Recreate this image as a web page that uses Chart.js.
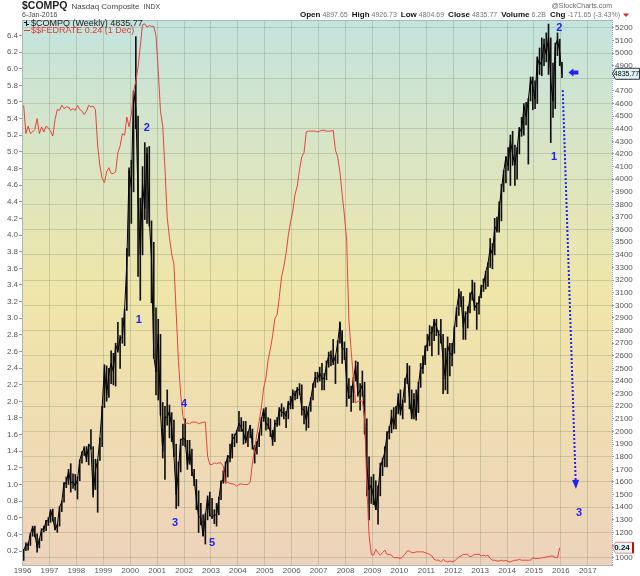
<!DOCTYPE html>
<html>
<head>
<meta charset="utf-8">
<script src="https://cdn.jsdelivr.net/npm/chart.js@4.4.0/dist/chart.umd.min.js"></script>
<style>
html, body { margin: 0; padding: 0; background: #fff; }
#wrap { position: relative; width: 640px; height: 576px; }
</style>
</head>
<body>
<div id="wrap"><canvas id="myChart" width="640" height="576"></canvas></div>
<script>
// monthly data, Jan 1996 .. Jan 2016 (last one is the current week)
var startYear = 1996;

var compqClose = [
  1059,1100,1101,1191,1243,1185,1081,1142,1227,1222,1293,1291,
  1380,1309,1222,1261,1400,1442,1594,1587,1686,1594,1601,1570,
  1619,1771,1835,1868,1779,1895,1872,1499,1694,1771,1950,2193,
  2506,2288,2461,2543,2471,2686,2638,2739,2746,2966,3336,4069,
  3940,4697,4573,3861,3401,3966,3767,4206,3673,3370,2598,2471,
  2773,2152,1840,2116,2110,2161,2027,1805,1499,1690,1931,1950,
  1934,1731,1845,1688,1616,1463,1328,1315,1172,1330,1479,1336,
  1321,1337,1341,1464,1596,1623,1735,1810,1787,1932,1960,2003,
  2066,2030,1994,1920,1987,2048,1887,1838,1897,1975,2097,2175,
  2062,2052,1999,1922,2068,2057,2185,2152,2152,2120,2233,2205,
  2306,2281,2340,2323,2179,2172,2091,2184,2258,2367,2432,2415,
  2464,2416,2422,2525,2605,2603,2546,2596,2701,2859,2661,2652,
  2390,2271,2279,2413,2523,2293,2326,2368,2092,1721,1536,1577,
  1476,1378,1529,1717,1774,1835,1979,2009,2122,2045,2145,2269,
  2147,2238,2398,2461,2257,2109,2255,2114,2369,2507,2498,2653,
  2700,2782,2781,2874,2835,2774,2756,2579,2415,2684,2620,2605,
  2814,2967,3092,3046,2827,2935,2940,3067,3116,2977,3010,3020,
  3142,3160,3268,3329,3456,3403,3626,3590,3771,3920,4060,4177,
  4104,4308,4199,4115,4243,4408,4370,4580,4493,4631,4792,4736,
  4635,4964,4901,4941,5070,4987,5128,4777,4620,5054,5109,5007,
  4836
];

var compqHigh = [
  1065,1117,1118,1193,1250,1250,1190,1150,1230,1250,1296,1316,
  1380,1385,1320,1265,1405,1450,1595,1640,1700,1745,1665,1660,
  1640,1775,1840,1880,1880,1900,2015,1880,1780,1775,1950,2200,
  2530,2520,2500,2640,2620,2700,2865,2760,2900,2970,3450,4090,
  4150,4700,5130,4500,3850,4100,4290,4250,4260,3670,3500,2980,
  2890,2770,2230,2200,2330,2210,2150,2090,1900,1760,1940,2060,
  2100,1930,1930,1860,1700,1620,1530,1430,1340,1350,1490,1520,
  1470,1380,1430,1480,1610,1690,1760,1810,1900,1980,1980,2010,
  2160,2110,2080,2080,2000,2050,2020,1890,1920,1990,2110,2180,
  2190,2110,2100,2010,2090,2110,2190,2220,2190,2160,2240,2280,
  2330,2320,2350,2380,2370,2200,2200,2190,2270,2380,2470,2470,
  2510,2540,2460,2560,2630,2640,2730,2600,2720,2870,2800,2710,
  2660,2420,2360,2430,2560,2550,2380,2480,2390,2100,1800,1640,
  1660,1610,1570,1750,1790,1880,2000,2040,2170,2190,2200,2300,
  2330,2250,2420,2540,2520,2330,2300,2330,2390,2540,2600,2680,
  2770,2840,2830,2890,2890,2800,2890,2770,2660,2750,2700,2700,
  2830,2980,3130,3110,3070,2950,2990,3100,3200,3180,3020,3070,
  3160,3210,3270,3340,3530,3490,3690,3700,3820,3960,4070,4180,
  4250,4350,4380,4270,4250,4410,4490,4600,4610,4640,4810,4810,
  4780,4970,5040,5120,5110,5160,5230,5120,4920,5080,5160,5110,
  4927
];

var compqLow = [
  978,1055,1060,1097,1170,1164,1043,1077,1135,1205,1215,1255,
  1280,1290,1220,1201,1250,1365,1440,1555,1580,1520,1550,1535,
  1465,1610,1750,1810,1760,1735,1860,1480,1540,1360,1770,1880,
  2190,2240,2270,2380,2370,2360,2630,2500,2700,2680,2960,3390,
  3650,3900,4400,3230,3040,3400,3680,3650,3630,3020,2580,2290,
  2250,2130,1790,1620,2050,1950,1920,1800,1390,1410,1680,1890,
  1880,1700,1740,1650,1570,1380,1200,1260,1170,1108,1300,1330,
  1310,1270,1250,1340,1460,1590,1600,1640,1760,1790,1880,1910,
  2000,2000,1900,1910,1880,1950,1860,1750,1820,1880,1970,2080,
  2010,2020,1960,1890,1920,2040,2050,2120,2100,2030,2100,2180,
  2180,2250,2260,2290,2130,2060,2010,2030,2160,2250,2350,2390,
  2400,2330,2330,2410,2510,2520,2530,2380,2540,2700,2540,2570,
  2200,2260,2160,2230,2400,2280,2170,2280,1980,1490,1300,1430,
  1420,1380,1265,1490,1650,1720,1720,1940,1990,2020,2020,2140,
  2130,2100,2230,2380,2180,2100,2100,2090,2150,2350,2460,2530,
  2640,2680,2600,2720,2760,2610,2700,2300,2330,2300,2440,2520,
  2620,2830,2920,2990,2730,2730,2820,2940,3040,2960,2810,2930,
  3060,3110,3130,3150,3300,3290,3400,3580,3580,3670,3900,3970,
  4070,3950,4110,3950,4000,4200,4340,4350,4430,4120,4620,4550,
  4560,4600,4830,4820,4900,4930,4830,4290,4490,4560,4980,4900,
  4805
];

// effective fed funds rate, monthly, Jan 1996 .. Dec 2015
var fedRate = [
  5.56,5.22,5.31,5.22,5.24,5.27,5.40,5.22,5.30,5.24,5.31,5.29,
  5.25,5.19,5.39,5.51,5.50,5.56,5.52,5.54,5.54,5.50,5.52,5.50,
  5.56,5.51,5.49,5.45,5.49,5.56,5.54,5.55,5.51,5.07,4.83,4.68,
  4.63,4.76,4.81,4.74,4.74,4.76,4.99,5.07,5.22,5.20,5.42,5.30,
  5.45,5.73,5.85,6.02,6.27,6.53,6.54,6.50,6.52,6.51,6.51,6.40,
  5.98,5.49,5.31,4.80,4.21,3.97,3.77,3.65,3.07,2.49,2.09,1.82,
  1.73,1.74,1.73,1.75,1.75,1.75,1.73,1.74,1.75,1.75,1.34,1.24,
  1.24,1.26,1.25,1.26,1.26,1.22,1.01,1.03,1.01,1.01,1.00,0.98,
  1.00,1.01,1.00,1.00,1.00,1.03,1.26,1.43,1.61,1.76,1.93,2.16,
  2.28,2.50,2.63,2.79,3.00,3.04,3.26,3.50,3.62,3.78,4.00,4.16,
  4.29,4.49,4.59,4.79,4.94,4.99,5.24,5.25,5.25,5.25,5.25,5.24,
  5.25,5.26,5.26,5.25,5.25,5.25,5.26,5.02,4.94,4.76,4.49,4.24,
  3.94,2.98,2.61,2.28,1.98,2.00,2.01,2.00,1.81,0.97,0.39,0.16,
  0.15,0.22,0.18,0.15,0.18,0.21,0.16,0.16,0.15,0.12,0.12,0.12,
  0.11,0.13,0.16,0.20,0.20,0.18,0.18,0.19,0.19,0.19,0.19,0.18,
  0.17,0.16,0.14,0.10,0.09,0.09,0.07,0.10,0.08,0.07,0.08,0.07,
  0.08,0.10,0.13,0.14,0.16,0.16,0.16,0.13,0.14,0.16,0.16,0.16,
  0.14,0.15,0.14,0.15,0.11,0.09,0.09,0.08,0.08,0.09,0.08,0.09,
  0.07,0.07,0.08,0.09,0.09,0.10,0.09,0.09,0.09,0.09,0.09,0.12,
  0.11,0.11,0.11,0.12,0.12,0.13,0.13,0.14,0.14,0.12,0.12,0.24
];

var yearTicks = [1996,1997,1998,1999,2000,2001,2002,2003,2004,2005,2006,
  2007,2008,2009,2010,2011,2012,2013,2014,2015,2016,2017];
var rateTicks = [0.2,0.4,0.6,0.8,1.0,1.2,1.4,1.6,1.8,2.0,2.2,2.4,2.6,2.8,3.0,3.2,
  3.4,3.6,3.8,4.0,4.2,4.4,4.6,4.8,5.0,5.2,5.4,5.6,5.8,6.0,6.2,6.4];
var indexTicks = [1000,1100,1200,1300,1400,1500,1600,1700,1800,1900,2000,2100,
  2200,2300,2400,2500,2600,2700,2800,2900,3000,3100,3200,3300,3400,3500,3600,
  3700,3800,3900,4000,4100,4200,4300,4400,4500,4600,4700,4800,4900,5000,5100,5200];

// Elliott wave counts written on the chart (year, index level)
var waveText = ['2','1','4','3','5','2','1','3'];
var waveYear = [2000.62,2000.32,2002.0,2001.67,2003.04,2015.94,2015.75,2016.68];
var waveLevel = [4410,2882,2217,1275,1117,5200,4180,1351];

function monthX(i) { return startYear + (i + 0.5) / 12; }

var closePts = compqClose.map(function (v, i) { return { x: monthX(i), y: v }; });
var rangePts = compqClose.map(function (v, i) { return { x: monthX(i), y: [compqLow[i], compqHigh[i]] }; });
var fedPts = fedRate.map(function (v, i) { return { x: monthX(i), y: v }; });

var FONT = "'Liberation Sans', Arial, sans-serif";
var gridColor = 'rgba(120,140,105,0.30)';

var bgPlugin = {
  id: 'bg',
  beforeDraw: function (chart) {
    var a = chart.chartArea, c = chart.ctx;
    var g = c.createLinearGradient(0, a.top, 0, a.bottom);
    g.addColorStop(0, '#c3e4df');
    g.addColorStop(0.5, '#f0e6a8');
    g.addColorStop(1, '#eed3bc');
    c.save();
    c.fillStyle = g;
    c.fillRect(a.left, a.top, a.right - a.left, a.bottom - a.top);
    c.restore();
  }
};

function txt(c, s, x, y, font, color, align) {
  c.font = font;
  c.fillStyle = color;
  c.textAlign = align || 'left';
  c.textBaseline = 'middle';
  c.fillText(s, x, y);
  return c.measureText(s).width;
}

var notePlugin = {
  id: 'notes',
  afterDraw: function (chart) {
    var c = chart.ctx, a = chart.chartArea;
    var sx = chart.scales.x, sr = chart.scales.y2, sl = chart.scales.y;
    c.save();

    // plot frame, dotted right axis line
    c.strokeStyle = '#a9b8b4';
    c.lineWidth = 1;
    c.beginPath();
    c.moveTo(a.left + 0.5, a.bottom);
    c.lineTo(a.left + 0.5, a.top + 0.5);
    c.lineTo(a.right, a.top + 0.5);
    c.stroke();
    c.strokeStyle = '#7fa3c4';
    c.setLineDash([1, 1]);
    c.beginPath();
    c.moveTo(a.right + 0.5, a.top);
    c.lineTo(a.right + 0.5, a.bottom);
    c.stroke();
    c.setLineDash([]);

    // header
    var w = txt(c, '$COMPQ', 22, 6.5, 'bold 10.5px ' + FONT, '#222');
    w += 4;
    w += txt(c, 'Nasdaq Composite', 22 + w, 7, '8px ' + FONT, '#444') + 4;
    txt(c, 'INDX', 22 + w, 7, '7px ' + FONT, '#444');
    txt(c, '6-Jan-2016', 22, 15, '7px ' + FONT, '#444');
    txt(c, '@StockCharts.com', 612, 6, '7px ' + FONT, '#666', 'right');

    var parts = [['Open', '4897.65'], ['High', '4926.73'], ['Low', '4804.69'],
      ['Close', '4835.77'], ['Volume', '6.2B'], ['Chg', '-171.65 (-3.43%)']];
    var x = 300;
    parts.forEach(function (p) {
      x += txt(c, p[0], x, 15, 'bold 8px ' + FONT, '#111') + 2;
      x += txt(c, p[1], x, 15, '7px ' + FONT, '#777') + 4;
    });
    c.fillStyle = '#d22';
    c.beginPath();
    c.moveTo(x - 1, 13.5); c.lineTo(x + 5, 13.5); c.lineTo(x + 2, 17);
    c.closePath(); c.fill();

    // legend inside plot
    c.strokeStyle = '#111';
    c.lineWidth = 1;
    c.beginPath();
    c.moveTo(26.5, 20.5); c.lineTo(26.5, 26);
    c.moveTo(24, 22.5); c.lineTo(26.5, 22.5);
    c.moveTo(26.5, 24.5); c.lineTo(29, 24.5);
    c.stroke();
    txt(c, '$COMPQ (Weekly) 4835.77', 31, 23.5, '9px ' + FONT, '#222');
    c.strokeStyle = '#e23a33';
    c.beginPath(); c.moveTo(24, 30.5); c.lineTo(30, 30.5); c.stroke();
    txt(c, '$$FEDRATE 0.24 (1 Dec)', 31, 31, '9px ' + FONT, '#e23a33');

    // wave labels
    waveText.forEach(function (t, i) {
      txt(c, t, sx.getPixelForValue(waveYear[i]), sr.getPixelForValue(waveLevel[i]),
        'bold 11px ' + FONT, '#2222ee', 'center');
    });

    // dotted projection with arrow head
    var x0 = sx.getPixelForValue(2016.07), y0 = sr.getPixelForValue(4706);
    var x1 = sx.getPixelForValue(2016.56), y1 = sr.getPixelForValue(1545);
    var ang = Math.atan2(y1 - y0, x1 - x0);
    var hx = x1 - 9 * Math.cos(ang), hy = y1 - 9 * Math.sin(ang);
    c.strokeStyle = '#2222ee';
    c.lineWidth = 2;
    c.setLineDash([2, 2]);
    c.beginPath(); c.moveTo(x0, y0); c.lineTo(hx, hy); c.stroke();
    c.setLineDash([]);
    c.fillStyle = '#2222ee';
    c.beginPath();
    c.moveTo(x1, y1);
    c.lineTo(hx + 3.5 * Math.sin(ang), hy - 3.5 * Math.cos(ang));
    c.lineTo(hx - 3.5 * Math.sin(ang), hy + 3.5 * Math.cos(ang));
    c.closePath(); c.fill();

    // fat arrow pointing at the last bar
    var ax = sx.getPixelForValue(2016.28), ay = sr.getPixelForValue(4845);
    c.beginPath();
    c.moveTo(ax, ay);
    c.lineTo(ax + 5, ay - 4);
    c.lineTo(ax + 5, ay - 2);
    c.lineTo(ax + 10, ay - 2);
    c.lineTo(ax + 10, ay + 2);
    c.lineTo(ax + 5, ay + 2);
    c.lineTo(ax + 5, ay + 4);
    c.closePath(); c.fill();

    // last value boxes on the right axis
    var by = sr.getPixelForValue(4835.77);
    c.fillStyle = '#dff3f3';
    c.strokeStyle = '#334';
    c.lineWidth = 1;
    c.beginPath();
    c.moveTo(a.right + 0.5, by);
    c.lineTo(a.right + 3.5, by - 5.5);
    c.lineTo(639.5, by - 5.5);
    c.lineTo(639.5, by + 5.5);
    c.lineTo(a.right + 3.5, by + 5.5);
    c.closePath(); c.fill(); c.stroke();
    txt(c, '4835.77', 626.5, by + 0.5, '7px ' + FONT, '#000', 'center');

    var ry = sl.getPixelForValue(0.24);
    c.fillStyle = '#e3f6f6';
    c.strokeStyle = '#e88';
    c.beginPath();
    c.moveTo(a.right + 0.5, ry);
    c.lineTo(a.right + 3.5, ry - 5.5);
    c.lineTo(632.5, ry - 5.5);
    c.lineTo(632.5, ry + 5.5);
    c.lineTo(a.right + 3.5, ry + 5.5);
    c.closePath(); c.fill(); c.stroke();
    c.fillStyle = '#d00';
    c.fillRect(632, ry - 5.5, 2, 11);
    txt(c, '0.24', 622, ry + 0.5, 'bold 8px ' + FONT, '#111', 'center');

    c.restore();
  }
};

var ctx = document.getElementById('myChart').getContext('2d');
var chart = new Chart(ctx, {
  data: {
    datasets: [{
      type: 'line',
      label: '$$FEDRATE',
      data: fedPts,
      yAxisID: 'y',
      borderColor: '#e5443c',
      borderWidth: 1,
      pointRadius: 0,
      tension: 0,
      order: 0
    }, {
      type: 'line',
      label: '$COMPQ',
      data: closePts,
      yAxisID: 'y2',
      borderColor: '#000',
      borderWidth: 1,
      pointRadius: 0,
      tension: 0,
      order: 1
    }, {
      type: 'bar',
      label: '$COMPQ range',
      data: rangePts,
      yAxisID: 'y2',
      backgroundColor: '#111',
      barThickness: 1,
      grouped: false,
      order: 2
    }]
  },
  options: {
    responsive: false,
    animation: false,
    layout: { padding: { top: 20, left: 0, right: 0, bottom: 0 } },
    plugins: {
      legend: { display: false },
      tooltip: { enabled: false }
    },
    scales: {
      x: {
        type: 'linear',
        position: 'bottom',
        offset: false,
        min: 1995.98,
        max: 2017.9,
        afterBuildTicks: function (s) { s.ticks = yearTicks.map(function (v) { return { value: v }; }); },
        afterFit: function (s) { s.height = 11; },
        ticks: {
          autoSkip: false, maxRotation: 0, padding: 1,
          color: '#555', font: { family: FONT, size: 8 },
          callback: function (v) { return String(v); }
        },
        grid: { color: gridColor, drawTicks: false, offset: false },
        border: { color: '#a9b8b4' }
      },
      y: {
        type: 'linear',
        position: 'left',
        min: 0.032,
        max: 6.586,
        afterBuildTicks: function (s) { s.ticks = rateTicks.map(function (v) { return { value: v }; }); },
        afterFit: function (s) { s.width = 22; },
        ticks: {
          padding: 1, color: '#555', font: { family: FONT, size: 8 },
          callback: function (v) { return v.toFixed(1); }
        },
        grid: { drawOnChartArea: false, tickLength: 3, tickColor: '#999' },
        border: { color: '#a9b8b4' }
      },
      y2: {
        type: 'linear',
        position: 'right',
        min: 942,
        max: 5262,
        afterBuildTicks: function (s) { s.ticks = indexTicks.map(function (v) { return { value: v }; }); },
        afterFit: function (s) { s.width = 28; },
        ticks: {
          padding: 1, color: '#555', font: { family: FONT, size: 8 },
          callback: function (v) { return String(v); }
        },
        grid: {
          color: function (c) { return c.tick && c.tick.value % 200 === 0 ? gridColor : 'rgba(0,0,0,0)'; },
          tickLength: 2, tickColor: '#99a'
        },
        border: { display: false }
      }
    }
  },
  plugins: [bgPlugin, notePlugin]
});
</script>
</body>
</html>
